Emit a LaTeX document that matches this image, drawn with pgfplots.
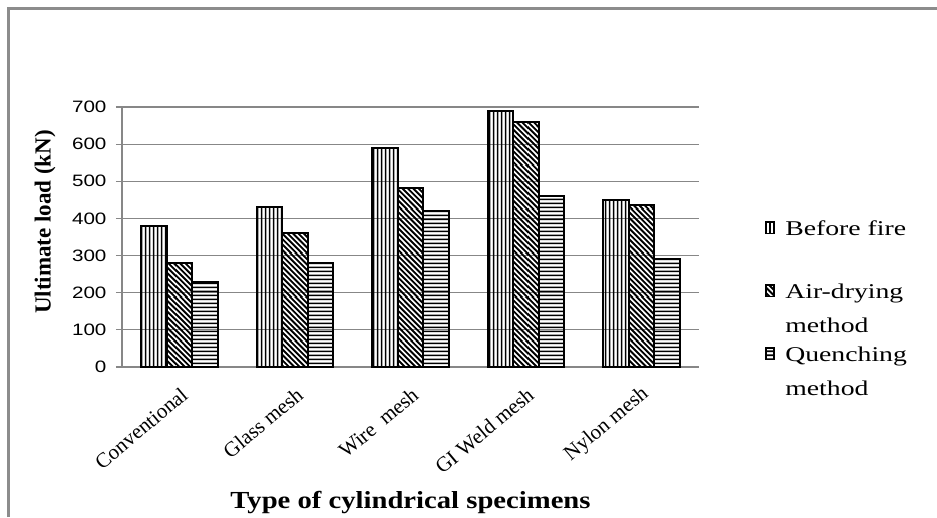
\documentclass[border=0pt]{standalone}
\usepackage{fontspec}
\setmainfont{Liberation Serif}
\newfontfamily\ticksans[FakeStretch=1.25]{Liberation Sans}
\newfontfamily\legserif[FakeStretch=1.32]{Liberation Serif}
\newfontfamily\xlabserif[FakeStretch=1.17]{Liberation Serif}
\usepackage{pgfplots}
\pgfplotsset{compat=1.18}
\usetikzlibrary{patterns}
\definecolor{gridgray}{HTML}{878787}
\definecolor{framegray}{HTML}{8C8C8C}
% long tiles avoid visible seams
\pgfdeclarepatternformonly{vthick}{\pgfpointorigin}{\pgfpoint{4pt}{200pt}}{\pgfpoint{4pt}{200pt}}{%
  \pgfsetlinewidth{2.1pt}%
  \pgfpathmoveto{\pgfpoint{2pt}{-2pt}}\pgfpathlineto{\pgfpoint{2pt}{202pt}}\pgfusepath{stroke}}
\pgfdeclarepatternformonly{hthick}{\pgfpointorigin}{\pgfpoint{200pt}{4pt}}{\pgfpoint{200pt}{4pt}}{%
  \pgfsetlinewidth{2pt}%
  \pgfpathmoveto{\pgfpoint{-2pt}{2pt}}\pgfpathlineto{\pgfpoint{202pt}{2pt}}\pgfusepath{stroke}}
\pgfdeclarepatternformonly{dthick}{\pgfpointorigin}{\pgfpoint{44pt}{44pt}}{\pgfpoint{44pt}{44pt}}{%
  \pgfsetlinewidth{1.9pt}%
  \foreach \c in {0,5.5,...,88}{%
    \pgfpathmoveto{\pgfpoint{\c pt + 3pt}{-3pt}}\pgfpathlineto{\pgfpoint{-3pt}{\c pt + 3pt}}%
  }%
  \pgfusepath{stroke}}
\begin{document}
\begin{tikzpicture}[x=1pt,y=1pt]
\path[use as bounding box] (0,0) rectangle (937,517);
\draw[line width=2.5pt, color=framegray] (8.5,0) -- (8.5,508.3) -- (937,508.3);
\begin{axis}[
  at={(122pt,150pt)}, anchor=south west,
  scale only axis, width=577pt, height=260pt,
  ymin=0, ymax=700, xmin=-0.5, xmax=4.5,
  ytick={0,100,...,700},
  xtick={0,...,4},
  xticklabels={Conventional, Glass mesh, Wire\ \ mesh, GI Weld mesh, Nylon mesh},
  axis x line=bottom, axis y line=left,
  axis line style={-, draw=gridgray, line width=1.2pt},
  ymajorgrids, grid style={draw=gridgray, line width=1.2pt},
  xtick style={draw=none},
  ytick style={draw=gridgray, line width=1.2pt},
  tick align=outside, major tick length=6pt,
  /pgf/number format/assume math mode=true,
  yticklabel style={font=\ticksans\fontsize{16.5}{18}\selectfont, anchor=east, xshift=-6pt},
  xticklabel style={font=\fontsize{21}{24}\selectfont, rotate=40, anchor=east, xshift=-5pt, yshift=-17.4pt},
  ylabel={\textbf{Ultimate load (kN)}},
  ylabel style={font=\fontsize{23}{26}\selectfont, at={(axis description cs:-0.1334,0.5577)}, anchor=center, rotate=0},
  xlabel={\textbf{Type of cylindrical specimens}},
  xlabel style={font=\xlabserif\fontsize{24.5}{27}\selectfont, at={(axis description cs:0.5,0)}, anchor=base, yshift=-141pt},
  ybar=0pt, bar width=25.5pt,
  legend style={at={(axis description cs:1.1144,0.571)}, anchor=north west, draw=none, fill=none,
    font=\legserif\fontsize{21}{33.5}\selectfont, row sep=9.5pt, inner sep=0pt,
    cells={anchor=base west, align=left}, column sep=5pt},
  legend image code/.code={\draw[#1, line width=1.6pt] (0.5pt,35.5pt) rectangle (8.5pt,47pt);},
]
\addplot[draw=black, line width=2pt, pattern=vthick, pattern color=black]
  coordinates {(0,380) (1,430) (2,590) (3,690) (4,450)};
\addlegendentry{\,Before fire\\\mbox{}}
\addplot[draw=black, line width=2pt, pattern=dthick, pattern color=black]
  coordinates {(0,280) (1,360) (2,482) (3,660) (4,437)};
\addlegendentry{\,Air-drying\\\,method}
\addplot[draw=black, line width=2pt, pattern=hthick, pattern color=black]
  coordinates {(0,230) (1,280) (2,420) (3,460) (4,292)};
\addlegendentry{\,Quenching\\\,method}
\end{axis}
\end{tikzpicture}
\end{document}
